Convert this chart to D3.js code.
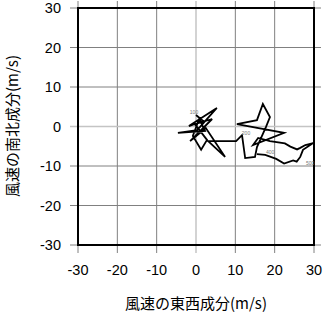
<!DOCTYPE html>
<html>
<head>
<meta charset="utf-8">
<script src="https://cdn.jsdelivr.net/npm/d3@7"></script>
<style>
  html, body { margin: 0; padding: 0; background: #fff; }
  svg text { font-family: "Liberation Sans", Arial, sans-serif; }
  svg text.title { font-family: "Noto Sans CJK JP", "Noto Sans", sans-serif; }
</style>
</head>
<body>
<svg id="chart" width="323" height="313"></svg>
<script>
// hodograph: wind u (east-west) / v (north-south) components, m/s
const uWind = [0.0, 1.8, -1.8, 5.3, 0.3, -4.6, 2.3, 0.8, -0.8, 1.3, 2.8, -0.3, 4.1, -1.5, 2.5, 7.4, 3.1,
  10.2, 11.7, 12.5, 15.0, 15.5, 17.8, 18.8, 17.0, 15.5, 10.4, 22.4, 14.5, 15.8, 18.8, 22.6, 24.0, 25.7,
  26.5, 27.8, 29.8, 27.2, 26.5, 25.6, 24.7, 22.4, 20.4, 17.6, 15.5];
const vWind = [2.9, 1.4, 0.1, 4.7, -0.9, -1.6, -1.1, 1.9, -2.4, -5.9, -3.4, 0.6, 1.9, -3.7, -0.4, -7.7, -3.7,
  -3.7, -2.2, -8.0, -7.7, -5.2, -0.1, 2.4, 5.7, 1.6, 0.6, -1.6, -4.7, -2.9, -3.7, -4.3, -5.1, -5.8,
  -5.4, -4.7, -4.2, -5.9, -7.7, -8.9, -8.6, -9.4, -8.2, -7.2, -7.0];
// pressure level labels and the point they sit at
const levelText = ["100", "200", "400", "500"];
const levelIdx = [0, 18, 43, 38];
const ticks = [-30, -20, -10, 0, 10, 20, 30];

const svg = d3.select('#chart');
const pL = 78, pR = 314, pT = 8, pB = 245;

const x = d3.scaleLinear().domain([-30, 30]).range([pL, pR]);
const y = d3.scaleLinear().domain([-30, 30]).range([pB, pT]);

// grid + ticks (ticks stick out 7px on every side)
const g = svg.append('g');
g.selectAll('.vgrid').data(ticks).join('line')
  .attr('x1', d => x(d)).attr('x2', d => x(d))
  .attr('y1', pT - 7).attr('y2', pB + 8)
  .attr('stroke', d => d === 0 ? '#c4c4c4' : '#808080')
  .attr('stroke-width', d => d === 0 ? 1.5 : 1);
g.selectAll('.hgrid').data(ticks).join('line')
  .attr('y1', d => y(d)).attr('y2', d => y(d))
  .attr('x1', pL - 8).attr('x2', pR + 7)
  .attr('stroke', d => d === 0 ? '#c4c4c4' : '#808080')
  .attr('stroke-width', d => d === 0 ? 1.5 : 1);

// frame
svg.append('rect')
  .attr('x', pL).attr('y', pT)
  .attr('width', pR - pL).attr('height', pB - pT)
  .attr('fill', 'none').attr('stroke', '#000').attr('stroke-width', 2);

// tick labels
svg.selectAll('.xlab').data(ticks).join('text')
  .attr('x', d => x(d)).attr('y', 275)
  .attr('text-anchor', 'middle')
  .attr('font-size', 14.5)
  .text(d => d);
svg.selectAll('.ylab').data(ticks).join('text')
  .attr('x', 61).attr('y', d => y(d) + 5)
  .attr('text-anchor', 'end')
  .attr('font-size', 14.5)
  .text(d => d);

// axis titles
svg.append('text').attr('class', 'title')
  .attr('x', 196).attr('y', 309)
  .attr('text-anchor', 'middle').attr('font-size', 15)
  .text('風速の東西成分(m/s)');
svg.append('text').attr('class', 'title')
  .attr('transform', 'translate(18,126) rotate(-90)')
  .attr('text-anchor', 'middle').attr('font-size', 15)
  .text('風速の南北成分(m/s)');

// trace
const pts = uWind.map((u, i) => [u, vWind[i]]);
const line = d3.line().x(d => x(d[0])).y(d => y(d[1]));
svg.append('path')
  .attr('d', line(pts))
  .attr('fill', 'none').attr('stroke', '#000')
  .attr('stroke-width', 1.8).attr('stroke-linejoin', 'miter');

// level labels
const offs = [[-2, -1], [4, 0], [5, -1], [10, 8]];
svg.selectAll('.lvl').data(levelText).join('text')
  .attr('x', (d, i) => x(uWind[levelIdx[i]]) + offs[i][0])
  .attr('y', (d, i) => y(vWind[levelIdx[i]]) + offs[i][1])
  .attr('text-anchor', 'middle')
  .attr('font-size', 5).attr('fill', '#777')
  .text(d => d);
</script>
</body>
</html>
